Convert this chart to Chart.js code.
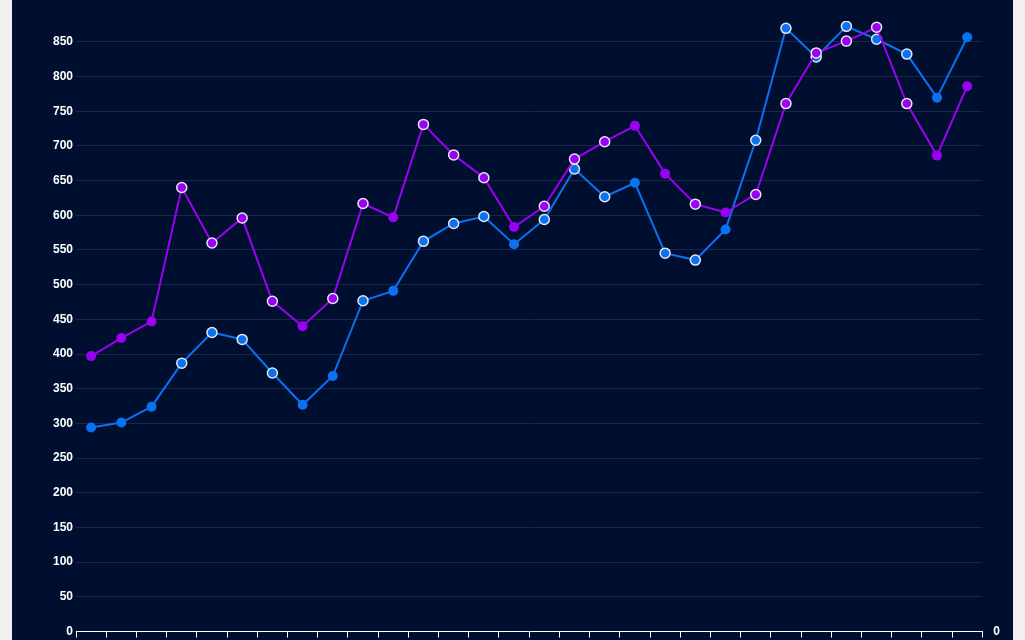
<!DOCTYPE html>
<html>
<head>
<meta charset="utf-8">
<script src="https://cdn.jsdelivr.net/npm/chart.js@4"></script>
<style>
  html, body { margin: 0; background: #f0f0f0; overflow: hidden; }
  .wrap { position: absolute; left: 12px; top: 0; width: 1001px; height: 680px; background: #000f2f; }
</style>
</head>
<body>
<div class="wrap"><canvas id="chart"></canvas></div>
<script>
const labels = Array.from({ length: 30 }, (_, i) => 'Day ' + (i + 1));
const purpleValues = [397, 423, 447, 640, 560, 596, 476, 440, 480, 617, 597, 731, 687, 654, 583, 613, 681, 706, 729, 660, 616, 604, 630, 761, 834, 851, 871, 761, 686, 786];
const blueValues = [2707, 2773, 2983, 3561, 3968, 3876, 3430, 3009, 3390, 4389, 4520, 5177, 5414, 5506, 5138, 5466, 6137, 5769, 5953, 5020, 4928, 5335, 6518, 8003, 7622, 8029, 7858, 7661, 7083, 7884];
// points drawn with a white ring
const purpleRinged = [3, 4, 5, 6, 8, 9, 11, 12, 13, 15, 16, 17, 20, 22, 23, 24, 25, 26, 27];
const blueRinged = [3, 4, 5, 6, 9, 11, 12, 13, 15, 16, 17, 19, 20, 22, 23, 24, 25, 26, 27];

const ring = (list, base) => labels.map((_, i) => list.includes(i) ? '#e6e6f0' : base);
const ringW = list => labels.map((_, i) => list.includes(i) ? 1.5 : 0);
const tickFont = { size: 12, weight: 'bold' };

const ctx = document.getElementById('chart').getContext('2d');
new Chart(ctx, {
    type: 'line',
    data: {
        labels: labels,
        datasets: [
            {
                label: 'Purple',
                data: purpleValues,
                yAxisID: 'y',
                borderColor: '#9a00f2',
                backgroundColor: '#9a00f2',
                pointBackgroundColor: '#9a00f2',
                pointBorderColor: ring(purpleRinged, '#9a00f2'),
                pointBorderWidth: ringW(purpleRinged),
                pointRadius: 5,
                borderWidth: 2,
                tension: 0,
            },
            {
                label: 'Blue',
                data: blueValues,
                yAxisID: 'y1',
                borderColor: '#0a72f0',
                backgroundColor: '#0a72f0',
                pointBackgroundColor: '#0a72f0',
                pointBorderColor: ring(blueRinged, '#0a72f0'),
                pointBorderWidth: ringW(blueRinged),
                pointRadius: 5,
                borderWidth: 2,
                tension: 0,
            },
        ],
    },
    options: {
        responsive: true,
        maintainAspectRatio: false,
        animation: false,
        layout: { padding: { top: 21, left: 38, right: 10, bottom: 0 } },
        plugins: { legend: { display: false }, tooltip: { enabled: false } },
        scales: {
            x: {
                offset: true,
                grid: { display: true, offset: true, drawOnChartArea: false, color: '#ffffff', tickLength: 6 },
                border: { color: '#ffffff' },
                ticks: { color: '#ffffff', font: tickFont },
            },
            y: {
                position: 'left',
                min: 0,
                max: 880,
                ticks: {
                    stepSize: 50, color: '#ffffff', font: tickFont,
                    callback: v => v % 50 === 0 ? v : null,
                },
                grid: { color: '#1a2548', drawTicks: false },
                border: { display: false },
            },
            y1: {
                position: 'right',
                min: 0,
                max: 8100,
                ticks: {
                    stepSize: 500, color: '#ffffff', font: tickFont, autoSkip: false,
                    callback: v => v % 500 === 0 ? v : null,
                },
                grid: { display: false },
                border: { display: false },
            },
        },
    },
});
</script>
</body>
</html>
